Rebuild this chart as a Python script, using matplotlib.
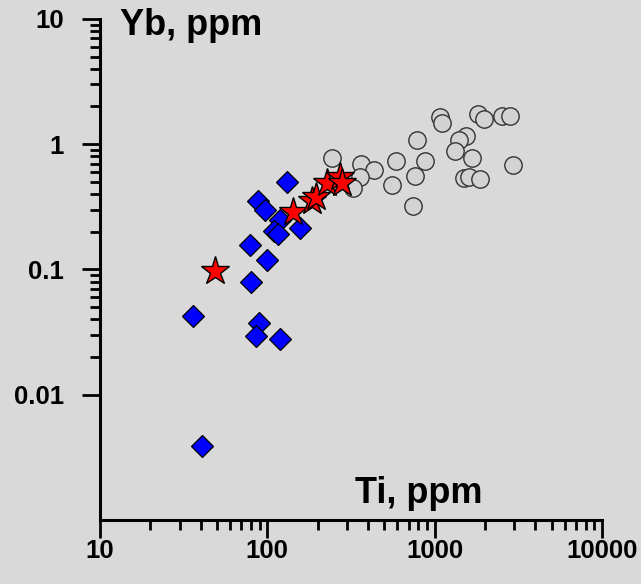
import numpy as np
import matplotlib
matplotlib.use("Agg")
from matplotlib import pyplot as plt
from matplotlib.ticker import FixedLocator, NullFormatter

# Ti (ppm) ve Yb (ppm) degerleri
ti_kare = [132, 88, 97, 119, 109, 116, 157, 79, 99, 80, 36, 89, 86, 119, 40.5]
yb_kare = [0.50, 0.35, 0.30, 0.25, 0.204, 0.192, 0.215, 0.157, 0.12, 0.079, 0.0425, 0.0375, 0.0294, 0.0277, 0.0039]

ti_yildiz = [49, 142, 184, 195, 226, 272, 278]
yb_yildiz = [0.098, 0.29, 0.35, 0.38, 0.49, 0.55, 0.49]

ti_daire = [243, 363, 436, 358, 324, 587, 558, 782, 873, 767, 743, 1077, 1100,
            1540, 1400, 1318, 1673, 1505, 1612, 1860, 1809, 1964, 2540, 2835, 2930]
yb_daire = [0.77, 0.70, 0.62, 0.55, 0.45, 0.73, 0.47, 1.09, 0.73, 0.56, 0.32, 1.66, 1.47,
            1.17, 1.09, 0.88, 0.77, 0.54, 0.55, 0.53, 1.73, 1.59, 1.69, 1.69, 0.68]

x_etiket = [10, 100, 1000, 10000]
y_etiket = [0.01, 0.1, 1, 10]

arka = "#d9d9d9"
plt.rcParams["font.family"] = ["Liberation Sans", "DejaVu Sans"]
plt.rcParams["font.weight"] = "bold"

fig = plt.figure(figsize=(6.41, 5.84), dpi=100, facecolor=arka)
ax = fig.add_axes([0.156, 0.1096, 0.783, 0.858], facecolor=arka)

ax.plot(ti_daire, yb_daire, "o", ms=12.5, mfc="#d3d3d3", mec="#333333", mew=1.0, zorder=2)
ax.plot(ti_kare, yb_kare, "D", ms=11.2, mfc="#0000ff", mec="#000000", mew=0.9, zorder=3)
ax.plot(ti_yildiz, yb_yildiz, "*", ms=21, mfc="#ff0000", mec="#000000", mew=1.0, zorder=4)

ax.set_xscale("log")
ax.set_yscale("log")
ax.set_xlim(10, 10000)
ax.set_ylim(0.001, 10)

ax.spines["top"].set_visible(False)
ax.spines["right"].set_visible(False)
for s in ["left", "bottom"]:
    ax.spines[s].set_linewidth(2.2)

ax.xaxis.set_major_locator(FixedLocator(x_etiket))
ax.set_xticklabels([str(v) for v in x_etiket])
xm = [k * 10.0 ** d for d in range(1, 4) for k in range(2, 10)]
ax.xaxis.set_minor_locator(FixedLocator(xm))
ax.xaxis.set_minor_formatter(NullFormatter())

ax.yaxis.set_major_locator(FixedLocator(y_etiket))
ax.set_yticklabels(["0.01", "0.1", "1", "10"])
ym = [k * 10.0 ** d for d in range(-2, 1) for k in range(2, 10)]
ax.yaxis.set_minor_locator(FixedLocator(ym))
ax.yaxis.set_minor_formatter(NullFormatter())

ax.tick_params(which="major", direction="out", length=13, width=2.0, labelsize=18.5, pad=1)
ax.tick_params(which="minor", direction="out", length=7, width=2.0)
ax.tick_params(axis="y", which="major", pad=13)

ax.text(0.04, 0.968, "Yb, ppm", transform=ax.transAxes, fontsize=26, fontweight="bold", va="baseline")
ax.text(0.508, 0.034, "Ti, ppm", transform=ax.transAxes, fontsize=26, fontweight="bold", va="baseline")

plt.savefig("out.png", dpi=100, facecolor=arka)
